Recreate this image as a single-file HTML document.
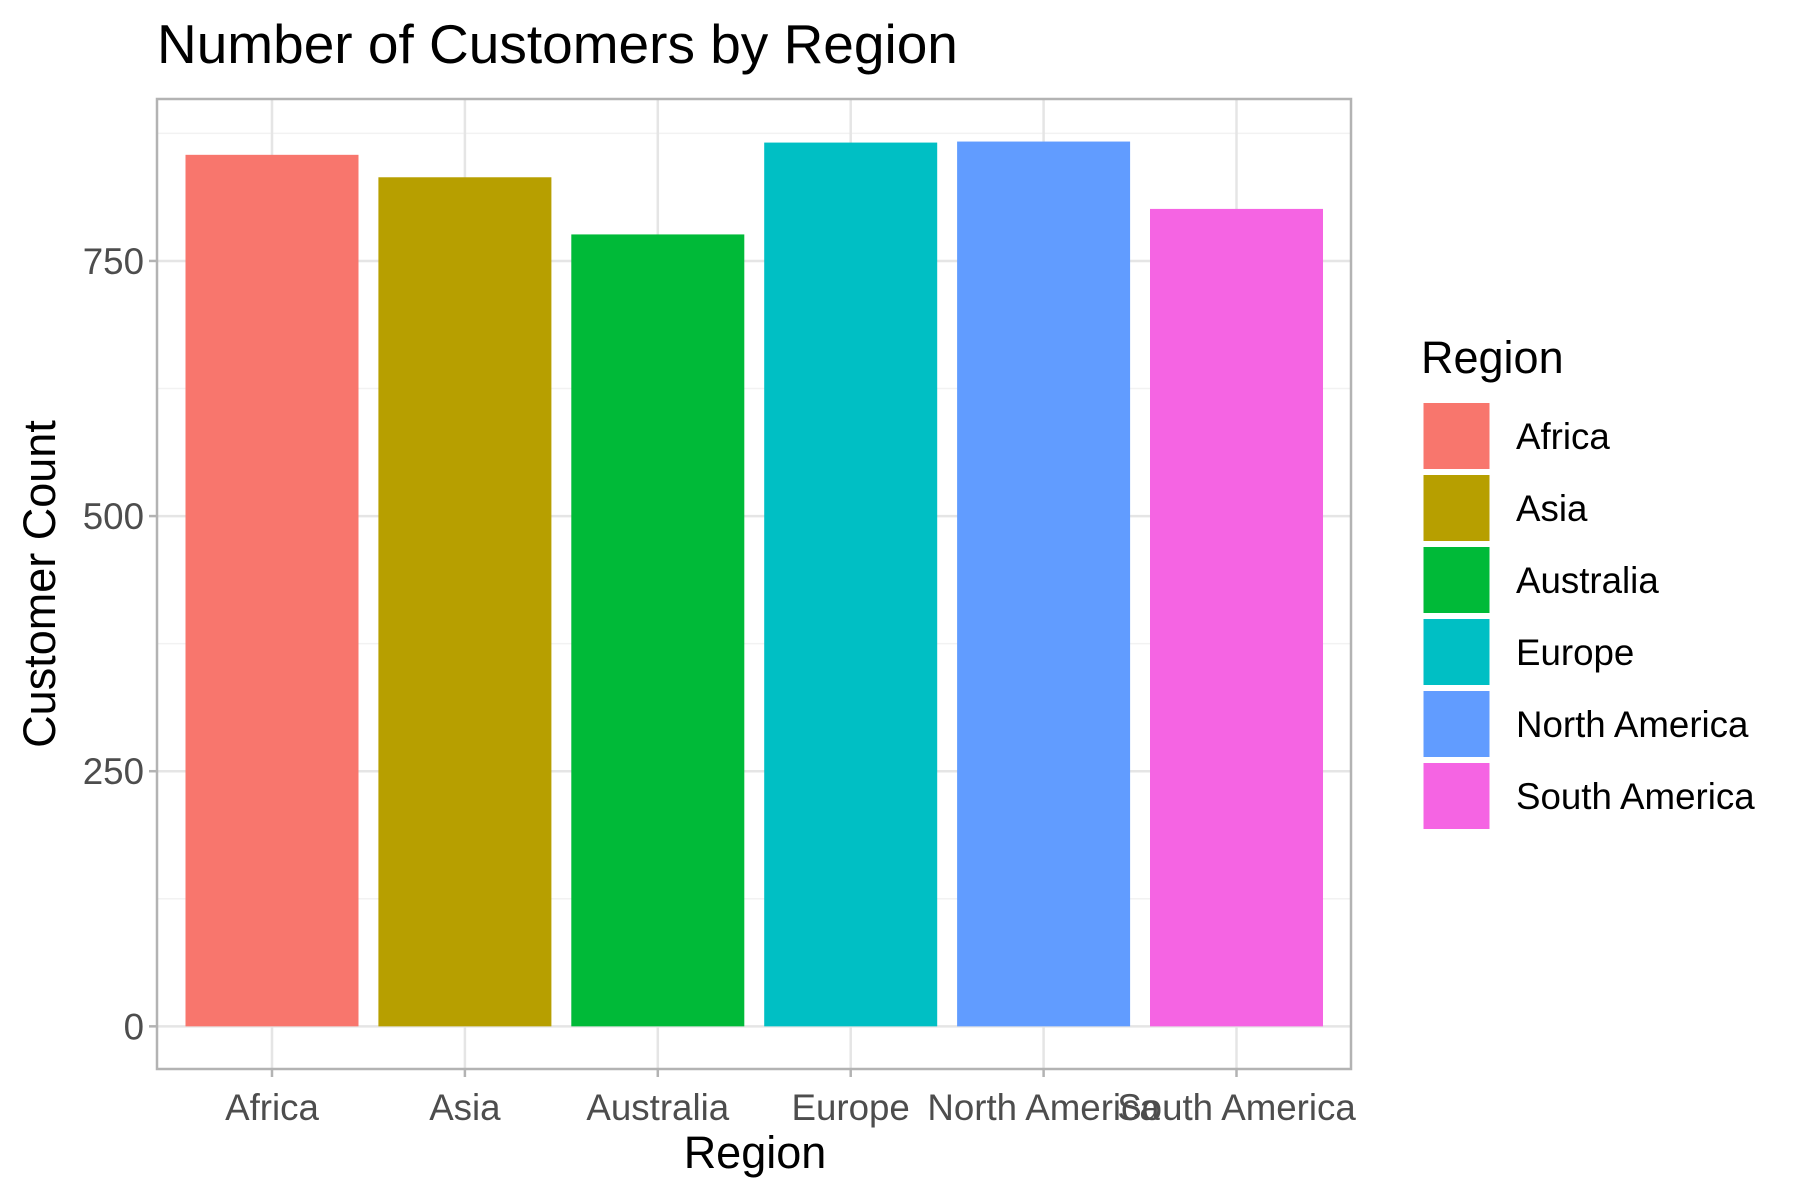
<!DOCTYPE html>
<html><head><meta charset="utf-8"><style>
html,body{margin:0;padding:0;background:#fff;}
svg{display:block;font-family:"Liberation Sans",Arial,sans-serif;}
</style></head><body>
<svg id="chart" width="1800" height="1200" viewBox="0 0 1800 1200">
<rect width="1800" height="1200" fill="#fff"/>
<text x="157" y="63" font-size="55" fill="#000">Number of Customers by Region</text>
<g id="grid"></g><g id="bars"></g><g id="axes"></g><g id="legend"></g>
<text x="755" y="1168" font-size="45" fill="#000" text-anchor="middle">Region</text>
<text transform="translate(55,584) rotate(-90)" font-size="45" fill="#000" text-anchor="middle">Customer Count</text>
</svg>
<script>
const categories = ["Africa","Asia","Australia","Europe","North America","South America"];
const counts = [854, 832, 776, 866, 867, 801];
const colors = ["#F8766D","#B79F00","#00BA38","#00BFC4","#619CFF","#F564E3"];
const yTicks = [0, 250, 500, 750];
const yMinor = [125, 375, 625, 875];

const NS = "http://www.w3.org/2000/svg";
const P = {l:157, r:1351, t:99, b:1069};
const yMin = -41.8, yMax = 908.7;
function y(v){ return P.b - (v - yMin) / (yMax - yMin) * (P.b - P.t); }
const band = 192.9, x0 = 272;
function x(i){ return x0 + i * band; }
const barW = 173;
function mk(tag, attrs, parent){ const e = document.createElementNS(NS, tag); for (const k in attrs) e.setAttribute(k, attrs[k]); parent.appendChild(e); return e; }

const grid = document.getElementById('grid');
yMinor.forEach(v => {
  const l = mk('line', {x1:P.l, x2:P.r, y1:y(v), y2:y(v), stroke:'#F2F2F2', 'stroke-width':1.5}, grid);
  
  
});
yTicks.forEach(v => {
  const l = mk('line', {x1:P.l, x2:P.r, y1:y(v), y2:y(v), stroke:'#E5E5E5', 'stroke-width':2.5}, grid);
  
  
});
categories.forEach((c, i) => {
  const l = mk('line', {x1:x(i), x2:x(i), y1:P.t, y2:P.b, stroke:'#E5E5E5', 'stroke-width':2.5}, grid);
  
  
});

const bars = document.getElementById('bars');
counts.forEach((v, i) => {
  const r = mk('rect', {x:x(i) - barW/2, y:y(v), width:barW, height:y(0) - y(v), fill:colors[i]}, bars);
  
  
});

const axes = document.getElementById('axes');
const border = mk('rect', {x:P.l, y:P.t, width:P.r - P.l, height:P.b - P.t, fill:'none', stroke:'#B3B3B3', 'stroke-width':2.5}, axes);


yTicks.forEach(v => {
  const t = mk('line', {x1:P.l - 8, x2:P.l, y1:y(v), y2:y(v), stroke:'#B3B3B3', 'stroke-width':2.5}, axes);
  
  
  const tx = mk('text', {x:P.l - 13, y:y(v) + 13, 'font-size':36.7, fill:'#4D4D4D', 'text-anchor':'end'}, axes);
  tx.textContent = v;
  
  
});
categories.forEach((c, i) => {
  const t = mk('line', {x1:x(i), x2:x(i), y1:P.b, y2:P.b + 8, stroke:'#B3B3B3', 'stroke-width':2.5}, axes);
  
  
  const tx = mk('text', {x:x(i), y:1120, 'font-size':36.7, fill:'#4D4D4D', 'text-anchor':'middle'}, axes);
  tx.textContent = c;
  
  
});

const lg = document.getElementById('legend');
const lt = mk('text', {x:1421, y:373, 'font-size':45, fill:'#000'}, lg);
lt.textContent = 'Region';


categories.forEach((c, i) => {
  const top = 403 + i * 72;
  const k = mk('rect', {x:1423.5, y:top, width:66, height:66, fill:colors[i]}, lg);
  
  
  const tx = mk('text', {x:1516, y:top + 46, 'font-size':36.7, fill:'#000'}, lg);
  tx.textContent = c;
  
  
});
</script>
</body></html>
